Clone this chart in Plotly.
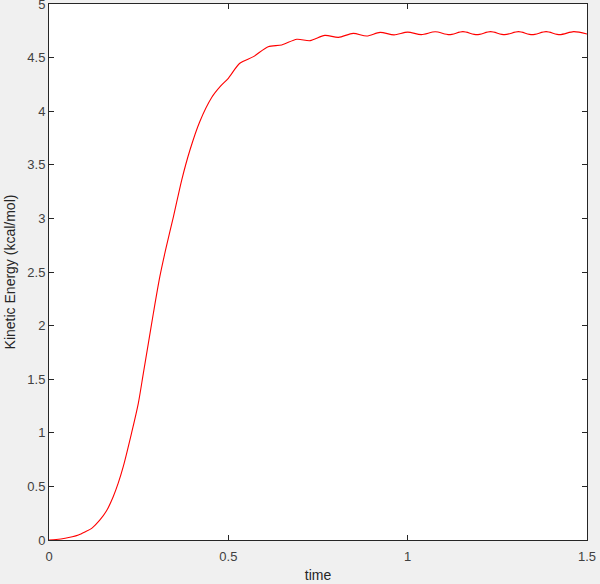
import plotly.graph_objects as go

time = [0.0, 0.02, 0.045, 0.065, 0.082, 0.10, 0.119, 0.142, 0.16, 0.179, 0.193, 0.207,
        0.230, 0.249, 0.263, 0.277, 0.291, 0.309, 0.326, 0.347, 0.370, 0.393, 0.42,
        0.454, 0.477, 0.500, 0.532, 0.570, 0.611, 0.649, 0.691, 0.728, 0.769, 0.807,
        0.848, 0.886, 0.923, 0.962, 1.0, 1.038, 1.077, 1.116, 1.154, 1.193, 1.231,
        1.27, 1.309, 1.347, 1.386, 1.424, 1.463, 1.5]
kinetic_energy = [0.0, 0.005, 0.016, 0.03, 0.047, 0.075, 0.109, 0.187, 0.27, 0.404, 0.53,
                  0.684, 0.995, 1.275, 1.555, 1.835, 2.115, 2.456, 2.72, 3.016, 3.358,
                  3.638, 3.90, 4.13, 4.229, 4.307, 4.447, 4.509, 4.602, 4.618, 4.671,
                  4.658, 4.707, 4.689, 4.726, 4.701, 4.735, 4.712, 4.738, 4.714, 4.741,
                  4.714, 4.742, 4.714, 4.742, 4.714, 4.742, 4.714, 4.742, 4.714, 4.742, 4.72]

x_ticks = [0, 0.5, 1, 1.5]
x_labels = ["0", "0.5", "1", "1.5"]
y_ticks = [0, 0.5, 1, 1.5, 2, 2.5, 3, 3.5, 4, 4.5, 5]
y_labels = ["0", "0.5", "1", "1.5", "2", "2.5", "3", "3.5", "4", "4.5", "5"]

fig = go.Figure()
fig.add_trace(go.Scatter(x=time, y=kinetic_energy, mode="lines",
                         line=dict(color="#ff0000", width=1.1, shape="spline", smoothing=0.8),
                         showlegend=False, hoverinfo="skip"))

axis_common = dict(showgrid=False, zeroline=False, showline=True, linecolor="#262626",
                   linewidth=1, ticks="inside", ticklen=5, tickcolor="#262626",
                   mirror="allticks", automargin=False, ticklabeloverflow="allow",
                   tickfont=dict(family="Liberation Sans, Arial", size=13, color="#404040"))

fig.update_layout(
    width=600, height=584,
    margin=dict(l=49, r=13, t=4, b=44),
    paper_bgcolor="#f0f0f0", plot_bgcolor="#ffffff",
    xaxis=dict(range=[0, 1.5], tickvals=x_ticks, ticktext=x_labels, ticklabelstandoff=4,
               title=dict(text="time", standoff=7,
                          font=dict(family="Liberation Sans, Arial", size=14, color="#262626")),
               **axis_common),
    yaxis=dict(range=[0, 5], tickvals=y_ticks, ticktext=y_labels, ticklabelstandoff=0,
               title=dict(text="Kinetic Energy (kcal/mol)", standoff=8,
                          font=dict(family="Liberation Sans, Arial", size=14, color="#262626")),
               **axis_common),
)

fig.write_html("out.html", config={"displayModeBar": False},
               post_script="document.body.style.margin='0';document.body.style.background='#f0f0f0';")
